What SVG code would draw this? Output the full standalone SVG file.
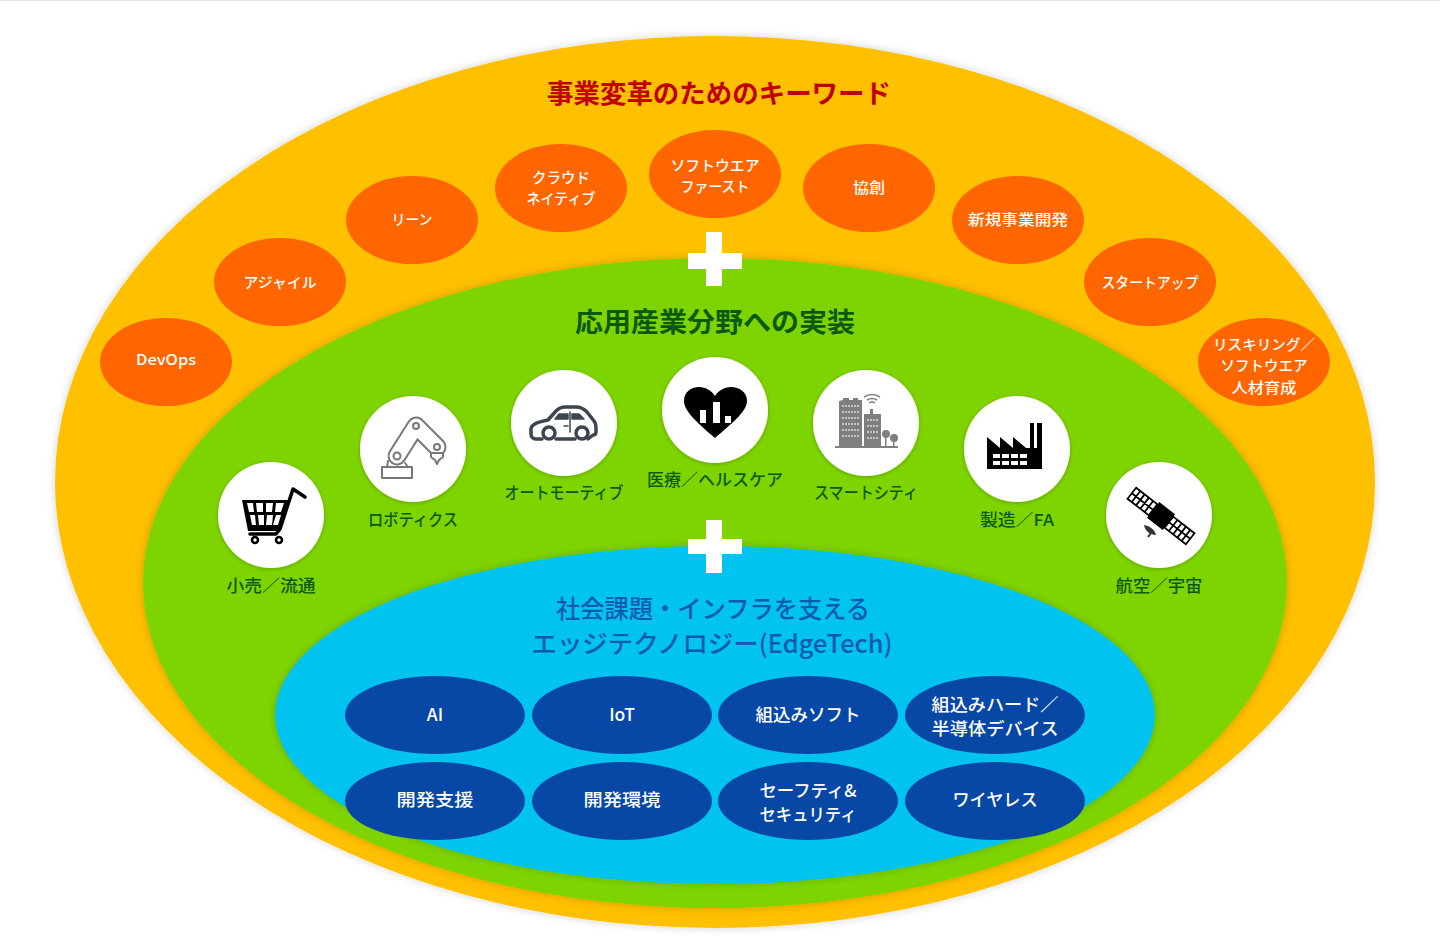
<svg xmlns="http://www.w3.org/2000/svg" width="1440" height="951" viewBox="0 0 1440 951">
<style>
text{font-family:"Noto Sans CJK JP","Noto Sans",sans-serif;text-anchor:middle}
.o{fill:#ff6600}.b{fill:#0747a6}.c{fill:#fff;filter:url(#s)}
.ot{fill:#fff;font-size:14.500px;font-weight:500}
.bt{fill:#fff;font-size:17.500px;font-weight:500}
.gt{fill:#0b5a0b;font-size:16.500px;font-weight:500}
.p{fill:#fff}
.line{fill:none;stroke-linejoin:round;stroke-linecap:round}
</style>
<defs>
<filter id="s" x="-20%" y="-20%" width="140%" height="140%"><feDropShadow dx="0" dy="1" stdDeviation="2" flood-color="#000" flood-opacity=".25"/></filter>
<filter id="g" x="-5%" y="-5%" width="110%" height="110%"><feDropShadow dx="0" dy="0" stdDeviation="4" flood-color="#000" flood-opacity=".18"/></filter>
</defs>
<rect width="1440" height="951" fill="#fff"/>
<rect width="1440" height="1" fill="#e8e8e8"/>
<g id="layer-keywords"><ellipse cx="715" cy="482" rx="660" ry="446" fill="#ffc000" filter="url(#g)"/>
<text x="719" y="103" font-size="26.500" font-weight="700" fill="#c00000" textLength="344" lengthAdjust="spacingAndGlyphs">事業変革のためのキーワード</text></g>
<g id="layer-industry"><ellipse cx="715" cy="583" rx="572" ry="325" fill="#7ed400" filter="url(#g)"/>
<text x="715" y="332" font-size="27" font-weight="700" fill="#0b5a0b" textLength="280" lengthAdjust="spacingAndGlyphs">応用産業分野への実装</text></g>
<g id="layer-edgetech"><ellipse cx="715" cy="715" rx="440" ry="169" fill="#00c3f0" filter="url(#g)"/>
<text x="713" y="618" font-size="25" font-weight="500" fill="#0a5ab0" textLength="314" lengthAdjust="spacingAndGlyphs">社会課題・インフラを支える</text>
<text x="712" y="653" font-size="25" font-weight="500" fill="#0a5ab0" textLength="361" lengthAdjust="spacingAndGlyphs">エッジテクノロジー(EdgeTech)</text></g>
<g id="plus-1"><path class="p" d="M706 232h16v21h20v16h-20v17h-16v-17h-18v-16h18z"/></g>
<g id="plus-2"><path class="p" d="M706 520h16v19h20v15h-20v19h-16v-19h-18v-15h18z"/></g>

<g id="kw-devops"><ellipse class="o" cx="166" cy="362" rx="66" ry="44"/><text class="ot" x="166" y="365" textLength="60" lengthAdjust="spacingAndGlyphs">DevOps</text></g>
<g id="kw-agile"><ellipse class="o" cx="280" cy="282" rx="66" ry="44"/><text class="ot" x="280" y="288" textLength="73" lengthAdjust="spacingAndGlyphs">アジャイル</text></g>
<g id="kw-lean"><ellipse class="o" cx="412" cy="220" rx="66" ry="44"/><text class="ot" x="412" y="225" textLength="41" lengthAdjust="spacingAndGlyphs">リーン</text></g>
<g id="kw-cloud"><ellipse class="o" cx="561" cy="188" rx="66" ry="44"/><text class="ot" x="561" y="183" textLength="58" lengthAdjust="spacingAndGlyphs">クラウド</text><text class="ot" x="561" y="204" textLength="69" lengthAdjust="spacingAndGlyphs">ネイティブ</text></g>
<g id="kw-software"><ellipse class="o" cx="715" cy="174" rx="66" ry="44"/><text class="ot" x="715" y="171" textLength="89" lengthAdjust="spacingAndGlyphs">ソフトウエア</text><text class="ot" x="715" y="192" textLength="69" lengthAdjust="spacingAndGlyphs">ファースト</text></g>
<g id="kw-kyoso"><ellipse class="o" cx="869" cy="188" rx="66" ry="44"/><text class="ot" x="869" y="193" textLength="32" lengthAdjust="spacingAndGlyphs">協創</text></g>
<g id="kw-newbiz"><ellipse class="o" cx="1018" cy="220" rx="66" ry="44"/><text class="ot" x="1018" y="225" textLength="100" lengthAdjust="spacingAndGlyphs">新規事業開発</text></g>
<g id="kw-startup"><ellipse class="o" cx="1150" cy="282" rx="66" ry="44"/><text class="ot" x="1150" y="288" textLength="97" lengthAdjust="spacingAndGlyphs">スタートアップ</text></g>
<g id="kw-reskill"><ellipse class="o" cx="1264" cy="362" rx="66" ry="44"/><text class="ot" x="1264" y="350" textLength="102" lengthAdjust="spacingAndGlyphs">リスキリング／</text><text class="ot" x="1264" y="371" textLength="87" lengthAdjust="spacingAndGlyphs">ソフトウエア</text><text class="ot" x="1264" y="393" textLength="65" lengthAdjust="spacingAndGlyphs">人材育成</text></g>

<g id="ind-retail"><circle class="c" cx="271" cy="515" r="53"/>
<path d="M242 500h48l-12 31h-30z" fill="#000"/>
<path class="p" d="M247 503h6l1 9h-5zM256 503h7l0 9h-6zM266 503h7l-1 9h-6zM276 503h8l-3 9h-6zM250 515h5l1 10h-4zM258 515h6v10h-5zM267 515h6l-1 10h-6zM276 515h5l-3 10h-5z"/>
<g class="line" stroke="#000"><path d="M305 497l-12-8-13 40-4 5h-26" stroke-width="3.500"/><circle cx="255" cy="540" r="3" stroke-width="2.500" fill="#fff"/><circle cx="279" cy="540" r="3" stroke-width="2.500" fill="#fff"/></g>
<text class="gt" x="271" y="592" textLength="89" lengthAdjust="spacingAndGlyphs">小売／流通</text></g>
<g id="ind-robot"><circle class="c" cx="413" cy="449" r="53"/>
<g class="line" stroke="#777"><path d="M397 456L416 426L437 447" stroke-width="19"/><path d="M397 456L416 426L437 447" stroke-width="15" stroke="#fff"/><path d="M382 467h30v11h-30zM387 467l1-6M408 467l-3-4" stroke-width="2" fill="#fff"/><path d="M431 453h12v4l-4 3-2 4-2-4-4-3z" stroke-width="2" fill="#fff"/><circle cx="397" cy="456" r="3.500" stroke-width="2" fill="#fff"/><circle cx="416" cy="426" r="3" stroke-width="2" fill="#fff"/><circle cx="437" cy="447" r="3" stroke-width="2" fill="#fff"/></g>
<text class="gt" x="413" y="526" textLength="90" lengthAdjust="spacingAndGlyphs">ロボティクス</text></g>
<g id="ind-auto"><circle class="c" cx="564" cy="423" r="53"/>
<g class="line" stroke="#3c4550" stroke-width="3.500"><path d="M542 439h-6c-3 0-5-2-5-5v-5c0-4 6-7 17-9l8-9c2-2 5-4 9-4h11c5 0 8 2 11 5l7 9c2 2 2 4 2 8v3c0 2-1 3-3 3l-5 4M556 439h19"/><circle cx="549" cy="433" r="6" fill="#fff"/><circle cx="582" cy="433" r="6" fill="#fff"/><path d="M555 419l4-5h9v5zM572 419v-5h7l5 5z" stroke-width="1.500" fill="#3c4550"/><path d="M570 412v20M564 426h4" stroke-width="1.500"/></g>
<text class="gt" x="564" y="499" textLength="119" lengthAdjust="spacingAndGlyphs">オートモーティブ</text></g>
<g id="ind-health"><circle class="c" cx="715" cy="410" r="53"/>
<path d="M715 438C700 425 684 412 684 401C684 392 691 387 699 387C706 387 712 391 715 396C718 391 724 387 731 387C739 387 747 392 747 401C747 412 730 425 715 438z" fill="#000"/>
<path class="p" d="M700 410h6v13h-6zM713 402h7v21h-7zM725 416h6v7h-6z"/>
<text class="gt" x="715" y="486" textLength="136" lengthAdjust="spacingAndGlyphs">医療／ヘルスケア</text></g>
<g id="ind-city"><circle class="c" cx="866" cy="423" r="53"/>
<g fill="#7f7f7f"><path d="M839 447v-46l4-1v-2h6v2h4v-2h5v2h4v47zM864 447v-33h6v-5h3v5h8v33z"/><circle cx="886" cy="434" r="4"/><circle cx="894" cy="438" r="4"/><rect x="835" y="446" width="63" height="2"/><rect x="885" y="436" width="1.500" height="10"/><rect x="893" y="440" width="1.500" height="6"/></g>
<g fill="none" stroke="#7f7f7f" stroke-width="1.500"><path d="M867 400q5-3 10 0M864 397q8-5 16 0M869 403q3-2 6 0"/><path d="M842 406h17M842 412h17M842 418h17M842 424h17M842 430h17M842 436h17M867 420h11M867 426h11M867 432h11M867 438h11" stroke="#ddd" stroke-dasharray="2 1"/></g>
<text class="gt" x="866" y="499" textLength="104" lengthAdjust="spacingAndGlyphs">スマートシティ</text></g>
<g id="ind-factory"><circle class="c" cx="1017" cy="449" r="53"/>
<path d="M987 469v-32l13 11v-11l13 11v-11l13 11h4v-25h4v25h3v-25h5v46z" fill="#000"/>
<path class="p" d="M993 454h7v4h-7zM1002 454h7v4h-7zM1011 454h7v4h-7zM1020 454h7v4h-7zM993 461h7v4h-7zM1002 461h7v4h-7zM1011 461h7v4h-7zM1020 461h7v4h-7z"/>
<text class="gt" x="1017" y="526" textLength="74" lengthAdjust="spacingAndGlyphs">製造／FA</text></g>
<g id="ind-space"><circle class="c" cx="1159" cy="515" r="53"/>
<g transform="rotate(38 1161 516)"><rect x="1151" y="506" width="20" height="20" fill="#000"/>
<g fill="#fff" stroke="#000" stroke-width="1.800"><path d="M1124 509h27v14h-27zM1171 509h27v14h-27z"/><path d="M1129.400 509v14M1134.800 509v14M1140.200 509v14M1145.600 509v14M1176.400 509v14M1181.800 509v14M1187.200 509v14M1192.600 509v14M1124 516h27M1171 516h27" fill="none"/></g></g>
<path d="M1144 525c6 1 11 5 12 10-6 0-11-4-12-10z" fill="#333"/><path d="M1151 533l-3 4" stroke="#333" stroke-width="2"/>
<text class="gt" x="1159" y="592" textLength="87" lengthAdjust="spacingAndGlyphs">航空／宇宙</text></g>

<g id="tech-ai"><ellipse class="b" cx="435" cy="715" rx="90" ry="39"/><text class="bt" x="435" y="721">AI</text></g>
<g id="tech-iot"><ellipse class="b" cx="622" cy="715" rx="90" ry="39"/><text class="bt" x="622" y="721">IoT</text></g>
<g id="tech-embsw"><ellipse class="b" cx="808" cy="715" rx="90" ry="39"/><text class="bt" x="808" y="721" textLength="105" lengthAdjust="spacingAndGlyphs">組込みソフト</text></g>
<g id="tech-embhw"><ellipse class="b" cx="995" cy="715" rx="90" ry="39"/><text class="bt" x="995" y="711" textLength="127" lengthAdjust="spacingAndGlyphs">組込みハード／</text><text class="bt" x="995" y="735" textLength="127" lengthAdjust="spacingAndGlyphs">半導体デバイス</text></g>
<g id="tech-devsup"><ellipse class="b" cx="435" cy="801" rx="90" ry="39"/><text class="bt" x="435" y="806" textLength="77" lengthAdjust="spacingAndGlyphs">開発支援</text></g>
<g id="tech-devenv"><ellipse class="b" cx="622" cy="801" rx="90" ry="39"/><text class="bt" x="622" y="806" textLength="77" lengthAdjust="spacingAndGlyphs">開発環境</text></g>
<g id="tech-safety"><ellipse class="b" cx="808" cy="801" rx="90" ry="39"/><text class="bt" x="808" y="797" textLength="97" lengthAdjust="spacingAndGlyphs">セーフティ&amp;</text><text class="bt" x="808" y="821" textLength="97" lengthAdjust="spacingAndGlyphs">セキュリティ</text></g>
<g id="tech-wireless"><ellipse class="b" cx="995" cy="801" rx="90" ry="39"/><text class="bt" x="995" y="806" textLength="85" lengthAdjust="spacingAndGlyphs">ワイヤレス</text></g>
<g id="connectors"></g>
</svg>
